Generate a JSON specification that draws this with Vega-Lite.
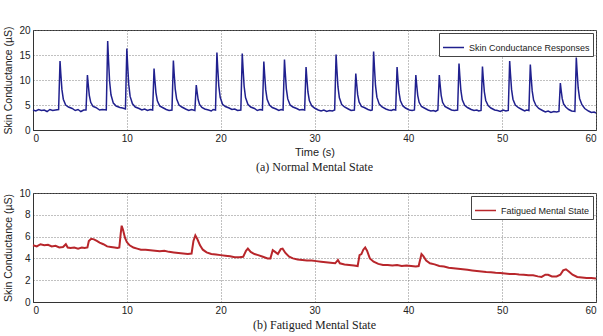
{
  "$schema": "https://vega.github.io/schema/vega-lite/v6.json",
  "padding": {"top": 24, "left": 3, "right": 0, "bottom": 0},
  "spacing": 13,
  "background": "white",
  "config": {
    "view": {"stroke": "#333", "strokeWidth": 1},
    "axis": {
      "labelFont": "Liberation Sans", "labelFontSize": 10, "labelColor": "#222",
      "titleFont": "Liberation Sans", "titleFontSize": 10.5, "titleFontWeight": "normal", "titleColor": "#222",
      "grid": true, "gridColor": "#777", "gridDash": [1, 2], "gridOpacity": 0.9,
      "ticks": false, "labelPadding": 3, "domainColor": "#333"
    },
    "legend": {
      "orient": "top-right", "offset": 3, "strokeColor": "#444", "fillColor": "white",
      "padding": 3, "symbolType": "stroke", "symbolSize": 441, "symbolStrokeWidth": 1.5,
      "labelFont": "Liberation Sans", "labelFontSize": 9, "labelColor": "#222", "title": null
    },
    "title": {"font": "Liberation Serif", "fontSize": 12, "fontWeight": "normal", "color": "#222", "anchor": "middle", "orient": "bottom", "offset": 5}
  },
  "datasets": {
    "normal": [
      {"t":0,"v":4.0},{"t":0.3,"v":3.8},{"t":0.6,"v":4.1},{"t":0.9,"v":3.9},{"t":1.2,"v":4.0},{"t":1.5,"v":3.7},{"t":1.8,"v":4.1},{"t":2.1,"v":3.9},{"t":2.4,"v":4.0},{"t":2.73,"v":4.1},
      {"t":2.88,"v":13.8},{"t":2.96,"v":11.35},{"t":3.08,"v":8.12},{"t":3.23,"v":6.16},{"t":3.48,"v":4.98},{"t":3.78,"v":4.6},{"t":4.18,"v":4.3},{"t":4.5,"v":3.9},{"t":4.8,"v":4.1},{"t":5.1,"v":3.7},{"t":5.4,"v":4.0},{"t":5.65,"v":4.0},
      {"t":5.8,"v":11.0},{"t":5.88,"v":9.25},{"t":6.0,"v":6.94},{"t":6.15,"v":5.54},{"t":6.4,"v":4.7},{"t":6.7,"v":4.5},{"t":7.1,"v":4.0},{"t":7.4,"v":4.1},{"t":7.81,"v":4.0},
      {"t":7.96,"v":17.8},{"t":8.04,"v":14.35},{"t":8.16,"v":9.8},{"t":8.31,"v":7.04},{"t":8.56,"v":5.38},{"t":8.86,"v":4.8},{"t":9.26,"v":4.5},{"t":9.55,"v":4.4},{"t":9.85,"v":4.2},
      {"t":10.0,"v":16.3},{"t":10.08,"v":13.2},{"t":10.2,"v":9.17},{"t":10.35,"v":6.71},{"t":10.6,"v":5.23},{"t":10.9,"v":4.6},{"t":11.3,"v":4.3},{"t":11.6,"v":4.0},{"t":11.9,"v":4.2},{"t":12.2,"v":3.9},{"t":12.5,"v":4.1},{"t":12.75,"v":4.0},
      {"t":12.9,"v":12.3},{"t":12.98,"v":10.2},{"t":13.1,"v":7.49},{"t":13.25,"v":5.83},{"t":13.5,"v":4.83},{"t":13.8,"v":4.5},{"t":14.2,"v":4.1},{"t":14.5,"v":3.9},{"t":14.81,"v":4.0},
      {"t":14.96,"v":13.9},{"t":15.04,"v":11.4},{"t":15.16,"v":8.16},{"t":15.31,"v":6.18},{"t":15.56,"v":4.99},{"t":15.86,"v":4.6},{"t":16.26,"v":4.2},{"t":16.6,"v":3.9},{"t":16.9,"v":4.1},{"t":17.25,"v":3.9},
      {"t":17.4,"v":9.0},{"t":17.48,"v":7.75},{"t":17.6,"v":6.1},{"t":17.75,"v":5.1},{"t":18.0,"v":4.5},{"t":18.3,"v":4.2},{"t":18.7,"v":4.0},{"t":19.0,"v":3.8},{"t":19.2,"v":4.1},{"t":19.45,"v":4.0},
      {"t":19.6,"v":15.5},{"t":19.68,"v":12.6},{"t":19.8,"v":8.83},{"t":19.95,"v":6.53},{"t":20.2,"v":5.15},{"t":20.5,"v":4.7},{"t":20.9,"v":4.4},{"t":21.2,"v":4.1},{"t":21.5,"v":4.2},{"t":21.8,"v":3.9},{"t":22.15,"v":4.0},
      {"t":22.3,"v":15.3},{"t":22.38,"v":12.5},{"t":22.5,"v":8.75},{"t":22.65,"v":6.49},{"t":22.9,"v":5.13},{"t":23.2,"v":4.6},{"t":23.6,"v":4.3},{"t":23.9,"v":3.9},{"t":24.2,"v":4.1},{"t":24.45,"v":4.0},
      {"t":24.6,"v":13.7},{"t":24.68,"v":11.3},{"t":24.8,"v":8.07},{"t":24.95,"v":6.13},{"t":25.2,"v":4.97},{"t":25.5,"v":4.5},{"t":25.9,"v":4.2},{"t":26.2,"v":3.9},{"t":26.45,"v":4.1},{"t":26.65,"v":4.0},
      {"t":26.8,"v":14.1},{"t":26.88,"v":11.6},{"t":27.0,"v":8.24},{"t":27.15,"v":6.22},{"t":27.4,"v":5.01},{"t":27.7,"v":4.6},{"t":28.1,"v":4.3},{"t":28.4,"v":4.0},{"t":28.7,"v":4.1},{"t":28.95,"v":4.0},
      {"t":29.1,"v":12.6},{"t":29.18,"v":10.45},{"t":29.3,"v":7.61},{"t":29.45,"v":5.89},{"t":29.7,"v":4.86},{"t":30.0,"v":4.4},{"t":30.4,"v":4.0},{"t":30.7,"v":3.8},{"t":31.0,"v":4.0},{"t":31.3,"v":3.7},{"t":31.6,"v":3.9},{"t":31.9,"v":3.8},{"t":32.15,"v":4.0},
      {"t":32.3,"v":15.1},{"t":32.38,"v":12.3},{"t":32.5,"v":8.66},{"t":32.65,"v":6.44},{"t":32.9,"v":5.11},{"t":33.2,"v":4.6},{"t":33.6,"v":4.2},{"t":33.9,"v":3.9},{"t":34.25,"v":4.0},
      {"t":34.4,"v":11.3},{"t":34.48,"v":9.5},{"t":34.6,"v":7.07},{"t":34.75,"v":5.61},{"t":35.0,"v":4.73},{"t":35.3,"v":4.5},{"t":35.7,"v":4.1},{"t":36.0,"v":3.9},{"t":36.15,"v":4.0},
      {"t":36.3,"v":15.7},{"t":36.38,"v":12.8},{"t":36.5,"v":8.91},{"t":36.65,"v":6.57},{"t":36.9,"v":5.17},{"t":37.2,"v":4.6},{"t":37.6,"v":4.2},{"t":37.9,"v":4.0},{"t":38.2,"v":3.9},{"t":38.4,"v":4.1},{"t":38.65,"v":4.0},
      {"t":38.8,"v":12.6},{"t":38.88,"v":10.45},{"t":39.0,"v":7.61},{"t":39.15,"v":5.89},{"t":39.4,"v":4.86},{"t":39.7,"v":4.4},{"t":40.1,"v":4.0},{"t":40.4,"v":3.9},{"t":40.65,"v":4.0},
      {"t":40.8,"v":11.0},{"t":40.88,"v":9.25},{"t":41.0,"v":6.94},{"t":41.15,"v":5.54},{"t":41.4,"v":4.7},{"t":41.7,"v":4.4},{"t":42.1,"v":4.0},{"t":42.4,"v":3.8},{"t":42.7,"v":3.9},{"t":42.9,"v":3.7},{"t":43.15,"v":4.0},
      {"t":43.3,"v":11.0},{"t":43.38,"v":9.25},{"t":43.5,"v":6.94},{"t":43.65,"v":5.54},{"t":43.9,"v":4.7},{"t":44.2,"v":4.4},{"t":44.6,"v":4.0},{"t":44.9,"v":3.9},{"t":45.25,"v":4.0},
      {"t":45.4,"v":13.3},{"t":45.48,"v":10.98},{"t":45.6,"v":7.91},{"t":45.75,"v":6.05},{"t":46.0,"v":4.93},{"t":46.3,"v":4.5},{"t":46.7,"v":4.1},{"t":47.0,"v":3.9},{"t":47.3,"v":4.0},{"t":47.5,"v":3.8},{"t":47.75,"v":3.9},
      {"t":47.9,"v":12.7},{"t":47.98,"v":10.5},{"t":48.1,"v":7.65},{"t":48.25,"v":5.91},{"t":48.5,"v":4.87},{"t":48.8,"v":4.4},{"t":49.2,"v":4.0},{"t":49.5,"v":3.9},{"t":49.8,"v":3.7},{"t":50.1,"v":4.0},{"t":50.4,"v":3.8},{"t":50.65,"v":3.9},
      {"t":50.8,"v":13.8},{"t":50.88,"v":11.35},{"t":51.0,"v":8.12},{"t":51.15,"v":6.16},{"t":51.4,"v":4.98},{"t":51.7,"v":4.5},{"t":52.1,"v":4.1},{"t":52.4,"v":3.8},{"t":52.6,"v":4.0},{"t":52.85,"v":3.9},
      {"t":53.0,"v":13.1},{"t":53.08,"v":10.8},{"t":53.2,"v":7.82},{"t":53.35,"v":6.0},{"t":53.6,"v":4.91},{"t":53.9,"v":4.3},{"t":54.3,"v":3.9},{"t":54.6,"v":3.6},{"t":54.9,"v":3.8},{"t":55.2,"v":3.5},{"t":55.5,"v":3.7},{"t":55.8,"v":3.6},{"t":56.05,"v":3.7},
      {"t":56.2,"v":9.4},{"t":56.28,"v":8.05},{"t":56.4,"v":6.27},{"t":56.55,"v":5.19},{"t":56.8,"v":4.54},{"t":57.1,"v":4.1},{"t":57.4,"v":3.8},{"t":57.75,"v":3.7},
      {"t":57.9,"v":14.5},{"t":57.98,"v":11.9},{"t":58.1,"v":8.41},{"t":58.25,"v":6.31},{"t":58.5,"v":5.05},{"t":58.8,"v":4.3},{"t":59.2,"v":3.8},{"t":59.5,"v":3.5},{"t":59.8,"v":3.6},{"t":60.0,"v":3.4}
    ],
    "fatigued": [
      {"t":0,"v":5.2},{"t":0.4,"v":5.1},{"t":0.8,"v":5.3},{"t":1.2,"v":5.2},{"t":1.6,"v":5.25},{"t":2.0,"v":5.1},{"t":2.4,"v":5.15},{"t":2.8,"v":5.0},{"t":3.2,"v":5.05},{"t":3.5,"v":5.3},{"t":3.7,"v":5.0},{"t":4.0,"v":4.95},{"t":4.4,"v":5.0},{"t":4.8,"v":4.9},{"t":5.2,"v":5.0},{"t":5.5,"v":4.95},{"t":5.8,"v":5.0},
      {"t":5.95,"v":5.6},{"t":6.2,"v":5.8},{"t":6.5,"v":5.75},{"t":6.8,"v":5.6},{"t":7.1,"v":5.45},{"t":7.5,"v":5.3},{"t":7.9,"v":5.1},{"t":8.3,"v":5.05},{"t":8.7,"v":5.0},{"t":9.0,"v":4.95},{"t":9.2,"v":5.0},
      {"t":9.35,"v":6.3},{"t":9.45,"v":7.0},{"t":9.6,"v":6.6},{"t":9.8,"v":5.9},{"t":10.0,"v":5.5},{"t":10.3,"v":5.2},{"t":10.7,"v":5.0},{"t":11.1,"v":4.9},{"t":11.5,"v":4.8},{"t":12.0,"v":4.8},{"t":12.5,"v":4.75},{"t":13.0,"v":4.7},{"t":13.5,"v":4.65},{"t":14.0,"v":4.7},{"t":14.5,"v":4.6},{"t":15.0,"v":4.55},{"t":15.5,"v":4.5},{"t":16.0,"v":4.45},{"t":16.5,"v":4.4},{"t":16.9,"v":4.45},
      {"t":17.1,"v":5.6},{"t":17.3,"v":6.1},{"t":17.5,"v":5.8},{"t":17.8,"v":5.2},{"t":18.1,"v":4.8},{"t":18.5,"v":4.55},{"t":19.0,"v":4.4},{"t":19.5,"v":4.35},{"t":20.0,"v":4.3},{"t":20.5,"v":4.25},{"t":21.0,"v":4.2},{"t":21.5,"v":4.1},{"t":22.0,"v":4.1},{"t":22.4,"v":4.15},
      {"t":22.7,"v":4.7},{"t":22.9,"v":4.9},{"t":23.2,"v":4.6},{"t":23.6,"v":4.4},{"t":24.0,"v":4.3},{"t":24.5,"v":4.15},{"t":25.0,"v":4.0},{"t":25.3,"v":4.0},{"t":25.55,"v":4.75},{"t":25.8,"v":4.6},{"t":26.1,"v":4.4},{"t":26.4,"v":4.85},{"t":26.6,"v":4.9},{"t":26.9,"v":4.5},{"t":27.3,"v":4.15},{"t":27.7,"v":4.0},
      {"t":28.2,"v":3.9},{"t":28.7,"v":3.85},{"t":29.2,"v":3.8},{"t":29.7,"v":3.8},{"t":30.2,"v":3.75},{"t":30.7,"v":3.7},{"t":31.2,"v":3.65},{"t":31.7,"v":3.6},{"t":32.2,"v":3.55},{"t":32.5,"v":3.85},{"t":32.7,"v":3.55},{"t":33.2,"v":3.45},{"t":33.7,"v":3.4},{"t":34.2,"v":3.35},{"t":34.6,"v":3.3},
      {"t":34.8,"v":4.3},{"t":35.0,"v":4.4},{"t":35.2,"v":4.8},{"t":35.4,"v":5.0},{"t":35.6,"v":4.7},{"t":35.9,"v":4.0},{"t":36.3,"v":3.7},{"t":36.8,"v":3.5},{"t":37.3,"v":3.4},{"t":37.8,"v":3.4},{"t":38.3,"v":3.35},{"t":38.8,"v":3.4},{"t":39.3,"v":3.3},{"t":39.8,"v":3.35},{"t":40.3,"v":3.3},{"t":40.8,"v":3.25},{"t":41.1,"v":3.3},
      {"t":41.4,"v":4.4},{"t":41.6,"v":4.2},{"t":41.9,"v":3.8},{"t":42.3,"v":3.55},{"t":42.8,"v":3.45},{"t":43.3,"v":3.3},{"t":43.8,"v":3.25},{"t":44.3,"v":3.15},{"t":44.8,"v":3.1},{"t":45.3,"v":3.05},{"t":45.8,"v":3.0},{"t":46.3,"v":2.95},{"t":46.8,"v":2.9},{"t":47.3,"v":2.85},{"t":47.8,"v":2.8},{"t":48.3,"v":2.75},{"t":48.8,"v":2.72},{"t":49.3,"v":2.68},{"t":49.8,"v":2.65},{"t":50.3,"v":2.62},{"t":50.8,"v":2.58},{"t":51.3,"v":2.58},{"t":51.8,"v":2.52},{"t":52.3,"v":2.5},{"t":52.8,"v":2.45},{"t":53.3,"v":2.45},{"t":53.8,"v":2.35},{"t":54.2,"v":2.3},
      {"t":54.6,"v":2.5},{"t":54.9,"v":2.5},{"t":55.3,"v":2.35},{"t":55.8,"v":2.35},{"t":56.2,"v":2.5},{"t":56.5,"v":2.9},{"t":56.8,"v":3.0},{"t":57.1,"v":2.8},{"t":57.5,"v":2.5},{"t":58.0,"v":2.3},{"t":58.5,"v":2.25},{"t":59.0,"v":2.2},{"t":59.5,"v":2.2},{"t":60.0,"v":2.15}
    ]
  },
  "vconcat": [
    {
      "width": 563, "height": 100,
      "title": {"text": "(a) Normal Mental State"},
      "data": {"name": "normal"},
      "mark": {"type": "line", "strokeWidth": 1.5, "interpolate": "linear"},
      "encoding": {
        "x": {"field": "t", "type": "quantitative", "scale": {"domain": [0, 60], "nice": false}, "axis": {"values": [0, 10, 20, 30, 40, 50, 60], "title": "Time (s)", "titlePadding": 3, "titleFontSize": 11}},
        "y": {"field": "v", "type": "quantitative", "scale": {"domain": [0, 20], "nice": false}, "axis": {"values": [0, 5, 10, 15, 20], "title": "Skin Conductance (µS)", "titlePadding": 5}},
        "color": {"datum": "Skin Conductance Responses", "scale": {"range": ["#20208e"]}}
      }
    },
    {
      "width": 563, "height": 109,
      "title": {"text": "(b) Fatigued Mental State"},
      "data": {"name": "fatigued"},
      "mark": {"type": "line", "strokeWidth": 2, "interpolate": "linear"},
      "encoding": {
        "x": {"field": "t", "type": "quantitative", "scale": {"domain": [0, 60], "nice": false}, "axis": {"values": [0, 10, 20, 30, 40, 50, 60], "title": null}},
        "y": {"field": "v", "type": "quantitative", "scale": {"domain": [0, 10], "nice": false}, "axis": {"values": [0, 2, 4, 6, 8, 10], "title": "Skin Conductance (µS)", "titlePadding": 5}},
        "color": {"datum": "Fatigued Mental State", "scale": {"range": ["#b8262b"]}}
      }
    }
  ],
  "resolve": {"scale": {"color": "independent"}, "legend": {"color": "independent"}}
}
